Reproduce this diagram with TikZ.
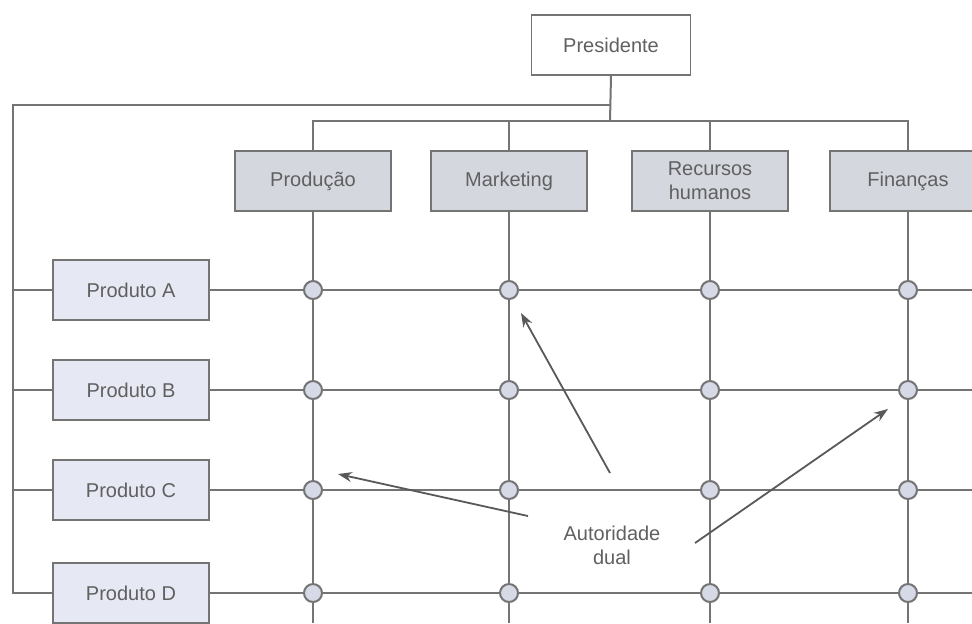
\documentclass[tikz,border=0pt]{standalone}
\usepackage{fontspec}
\setmainfont{Liberation Sans}
\usetikzlibrary{arrows.meta}

\definecolor{linegray}{HTML}{747474}
\definecolor{textgray}{HTML}{606060}
\definecolor{deptfill}{HTML}{D5D7DF}
\definecolor{prodfill}{HTML}{E6E8F3}
\definecolor{dotfill}{HTML}{D6D9E6}

\begin{document}
\begin{tikzpicture}[x=0.5pt, y=-0.5pt, line width=1pt, draw=linegray,
    every node/.style={font=\fontsize{10}{12}\selectfont, text=textgray},
    box/.style={draw=linegray, line width=0.8pt, minimum height=30pt, align=center},
    chief/.style={box, fill=white, minimum width=79.5pt},
    dept/.style={box, fill=deptfill, minimum width=78pt},
    prod/.style={box, fill=prodfill, minimum width=78pt},
    dot/.style={circle, draw=linegray, fill=dotfill, inner sep=0pt, minimum size=9pt},
    pointer/.style={draw=black!65, line width=0.9pt, -{Stealth[length=7pt, width=5pt]}}]
    \useasboundingbox[fill=white] (0,0) rectangle (972,623);

    % top of the chart
    \node[chief] (pres) at (611,45) {Presidente};

    % functional departments
    \node[dept] (prd) at (313,181) {Produção};
    \node[dept] (mkt) at (509,181) {Marketing};
    \node[dept] (rh)  at (710,181) {Recursos\\humanos};
    \node[dept] (fin) at (908,181) {Finanças};

    % product lines
    \node[prod] (pa) at (131,290) {Produto A};
    \node[prod] (pb) at (131,390) {Produto B};
    \node[prod] (pc) at (131,490) {Produto C};
    \node[prod] (pd) at (131,593) {Produto D};

    % buses and picture edges
    \coordinate (split)   at (610,105);
    \coordinate (corner)  at (13,105);
    \coordinate (deptbus) at (610,121);
    \coordinate (bottom)  at (0,623);
    \coordinate (right)   at (972,0);

    % draw reporting lines
    \draw (pres.south) -- (deptbus);
    \draw (split) -- (corner) |- (pd.west);
    \foreach \p in {pa, pb, pc}
        \draw (corner |- \p.west) -- (\p.west);
    \draw (prd.north) |- (deptbus) -| (fin.north);
    \draw (mkt.north) -- (mkt.north |- deptbus);
    \draw (rh.north) -- (rh.north |- deptbus);

    % draw the grid
    \foreach \d in {prd, mkt, rh, fin}
        \draw (\d.south) -- (\d.south |- bottom);
    \foreach \p in {pa, pb, pc, pd}
        \draw (\p.east) -- (\p.east -| right);

    % crossing points
    \foreach \d in {prd, mkt, rh, fin}
        \foreach \p in {pa, pb, pc, pd}
            \node[dot] (\d-\p) at (\d.south |- \p.east) {};

    % dual authority note
    \node[align=center] (dual) at (612,545) {Autoridade\\dual};
    \coordinate (from1) at (610,473);
    \coordinate (to1)   at (521,313);
    \coordinate (from2) at (528,516);
    \coordinate (to2)   at (338,474);
    \coordinate (from3) at (695,543);
    \coordinate (to3)   at (888,409);
    \draw[pointer] (from1) -- (to1);
    \draw[pointer] (from2) -- (to2);
    \draw[pointer] (from3) -- (to3);
\end{tikzpicture}
\end{document}
